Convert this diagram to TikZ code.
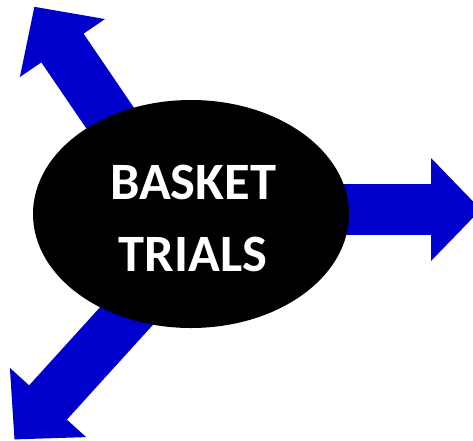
\documentclass[tikz,border=0pt]{standalone}
\usepackage{fontspec}
\setmainfont{Carlito}
\usepackage{tikz}
\usetikzlibrary{arrows.meta,backgrounds,shapes.geometric,positioning}
\definecolor{arrblue}{RGB}{0,0,204}
\tikzset{ARR style/.style={arrblue,line width=51pt,arrows={-Triangle[width=100pt,length=50pt]}},
	BALL style/.style={ellipse,fill=black,minimum width=316pt,minimum height=228pt,inner sep=0pt},
	TXT style/.style={text=white,align=center,inner sep=0pt,font=\bfseries\fontsize{52.5}{72}\selectfont}}

\begin{document}
\begin{tikzpicture}[x=1pt,y=-1pt]
			\useasboundingbox (0,0) rectangle (473,440);
			\clip (0,0) rectangle (473,440);
			\node[BALL style] (basket) at (191,214) {};
			\node[TXT style] (label) at (193,218) {BASKET\\TRIALS};
			
			% ends of the three arrows
			\coordinate (startR) at (290,209.5);
			\coordinate (tipR) at (481,209.5);
			\coordinate (startUL) at (170,206);
			\coordinate (tipUL) at (34.3,6.7);
			\coordinate (startDL) at (210,224);
			\coordinate (tipDL) at (14.4,439.5);
			
			\begin{scope}[on background layer]
				\draw[ARR style] (startR) -- (tipR);
				\draw[ARR style] (startUL) -- (tipUL);
				\draw[ARR style] (startDL) -- (tipDL);
			\end{scope}
		\end{tikzpicture}
\end{document}
